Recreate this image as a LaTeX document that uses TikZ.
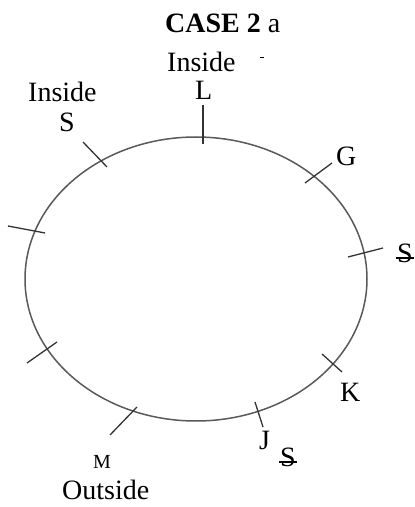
\documentclass[tikz,border=0pt]{standalone}
\usepackage{fontspec}
\setmainfont{Liberation Serif}
\begin{document}
\begin{tikzpicture}[x=1pt,y=1pt,
  lbl/.style={anchor=base west,inner sep=0pt,font=\fontsize{28}{32}\selectfont},
  small/.style={anchor=base west,inner sep=0pt,font=\fontsize{20}{24}\selectfont},
  tick/.style={draw=black!80,line width=1.3pt},
  rim/.style={draw=black!65,line width=1.5pt}]
\useasboundingbox (0,0) rectangle (415,507);
% circle
\draw[rim] (196,228) ellipse [x radius=171, y radius=142];
% ticks
\coordinate (la) at (203,402); \coordinate (lb) at (203,363);
\coordinate (sa) at (83,365);  \coordinate (sb) at (107,340);
\coordinate (ga) at (305,324); \coordinate (gb) at (332,344);
\coordinate (ra) at (348,250); \coordinate (rb) at (383,259);
\coordinate (ka) at (322,153); \coordinate (kb) at (342,135);
\coordinate (ja) at (255,105); \coordinate (jb) at (263,80);
\coordinate (ma) at (110,72);  \coordinate (mb) at (137,100);
\coordinate (wa) at (27,144);  \coordinate (wb) at (57,165);
\coordinate (ea) at (8,281);   \coordinate (eb) at (45,274);
\foreach \p in {l,s,g,r,k,j,m,w,e} \draw[tick] (\p a) -- (\p b);
% texts
\node[lbl] (title) at (165,474) {\textbf{CASE 2} a};
\node[lbl] (intop) at (167,435) {Inside};
\node[lbl] (L) at (195,407) {L};
\node[lbl] (inleft) at (28,405) {Inside};
\node[lbl] (S1) at (59,375) {S};
\node[lbl] (G) at (336,341) {G};
\node[lbl] (S2) at (397,244) {S};
\node[lbl] (K) at (340,105) {K};
\node[lbl] (J) at (259,57) {J};
\node[lbl] (S3) at (280,40) {S};
\node[small] (M) at (93,38) {M};
\node[lbl] (out) at (62,7) {Outside};
% strokes through S
\draw[line width=1.2pt] (396,249) -- (414,249);
\draw[line width=1.2pt] (279,45) -- (297,45);
% small dash
\draw[line width=0.8pt] (260,450) -- (264,450);
\end{tikzpicture}
\end{document}
